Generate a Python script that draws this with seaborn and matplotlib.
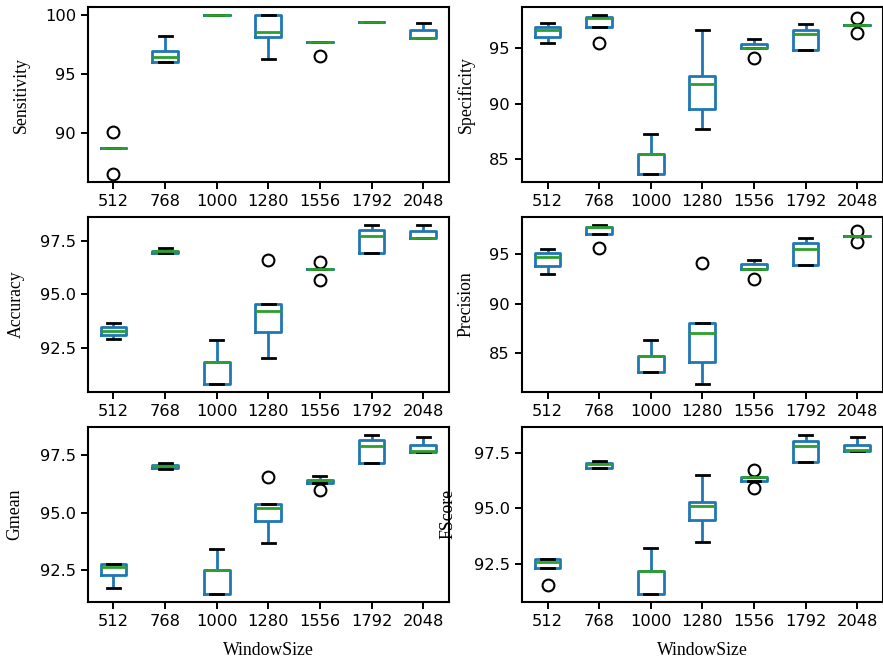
import matplotlib
matplotlib.use("Agg")
import matplotlib.pyplot as plt
from matplotlib.ticker import MultipleLocator
import seaborn as sns
import pandas as pd

window_sizes = ["512", "768", "1000", "1280", "1556", "1792", "2048"]

sensitivity = [
    [86.45, 88.67, 88.67, 88.67, 90.06],
    [96.02, 96.02, 96.42, 96.96, 98.24],
    [100.0, 100.0, 100.0, 100.0, 100.0],
    [96.25, 98.12, 98.55, 100.0, 100.0],
    [96.53, 97.70, 97.70, 97.70, 97.70],
    [99.40, 99.40, 99.40, 99.40, 99.40],
    [98.04, 98.04, 98.04, 98.72, 99.32],
]
specificity = [
    [95.46, 96.03, 96.63, 96.96, 97.26],
    [95.51, 96.96, 97.71, 97.80, 97.99],
    [83.65, 83.65, 85.43, 85.43, 87.24],
    [87.69, 89.49, 91.75, 92.53, 96.63],
    [94.16, 95.00, 95.00, 95.42, 95.82],
    [94.82, 94.82, 96.30, 96.68, 97.20],
    [96.39, 97.08, 97.08, 97.08, 97.71],
]
accuracy = [
    [92.93, 93.11, 93.30, 93.50, 93.69],
    [96.90, 96.90, 97.01, 97.03, 97.15],
    [90.84, 90.84, 91.87, 91.87, 92.88],
    [92.05, 93.24, 94.23, 94.55, 96.58],
    [95.67, 96.18, 96.18, 96.18, 96.52],
    [96.90, 96.90, 97.71, 97.97, 98.22],
    [97.62, 97.62, 97.62, 97.93, 98.22],
]
precision = [
    [93.00, 93.81, 94.71, 95.15, 95.56],
    [95.63, 97.00, 97.75, 97.80, 97.95],
    [83.10, 83.10, 84.72, 84.72, 86.33],
    [81.89, 84.14, 87.04, 88.08, 94.15],
    [92.45, 93.50, 93.50, 93.97, 94.41],
    [93.91, 93.91, 95.52, 96.09, 96.63],
    [96.19, 96.83, 96.83, 96.83, 97.37],
]
gmean = [
    [91.71, 92.31, 92.63, 92.75, 92.75],
    [96.90, 96.92, 97.02, 97.06, 97.13],
    [91.48, 91.48, 92.49, 92.49, 93.43],
    [93.70, 94.65, 95.20, 95.38, 96.55],
    [95.98, 96.27, 96.43, 96.43, 96.60],
    [97.15, 97.15, 97.90, 98.13, 98.37],
    [97.61, 97.61, 97.69, 97.93, 98.27],
]
fscore = [
    [91.55, 92.28, 92.55, 92.71, 92.71],
    [96.85, 96.85, 97.00, 97.05, 97.14],
    [91.13, 91.13, 92.17, 92.17, 93.21],
    [93.48, 94.49, 95.11, 95.30, 96.50],
    [95.92, 96.23, 96.40, 96.40, 96.73],
    [97.11, 97.11, 97.83, 98.07, 98.33],
    [97.59, 97.59, 97.65, 97.89, 98.22],
]

metric_names = ["Sensitivity", "Specificity", "Accuracy", "Precision", "Gmean", "FScore"]
metric_values = [sensitivity, specificity, accuracy, precision, gmean, fscore]
tick_steps = [5, 5, 2.5, 5, 2.5, 2.5]

plt.rcParams.update({
    "font.family": ["DejaVu Sans"],
    "xtick.labelsize": 11.7,
    "ytick.labelsize": 11.7,
    "axes.linewidth": 1.5,
    "xtick.major.width": 1.4,
    "ytick.major.width": 1.4,
    "xtick.major.size": 5,
    "ytick.major.size": 5,
})

BLUE = "#1f77b4"
GREEN = "#2ca02c"
LW = 2.0

fig, axes = plt.subplots(3, 2, figsize=(8.83, 6.6), dpi=100)
fig.subplots_adjust(left=0.0993, right=1.0, bottom=0.0883, top=0.989,
                    wspace=0.2017, hspace=0.2)

label_x = {
    "Sensitivity": -0.1844, "Accuracy": -0.198, "Gmean": -0.201,
    "Specificity": -0.1547, "Precision": -0.1547, "FScore": -0.2032,
}

for i, (name, vals, step) in enumerate(zip(metric_names, metric_values, tick_steps)):
    ax = axes[i // 2, i % 2]
    rows = []
    for ws, group in zip(window_sizes, vals):
        for v in group:
            rows.append({"WindowSize": ws, name: v})
    df = pd.DataFrame(rows)
    sns.boxplot(
        data=df, x="WindowSize", y=name, order=window_sizes, ax=ax,
        width=0.5, fill=False, color=BLUE, linewidth=LW, whis=1.5,
        boxprops=dict(color=BLUE, linewidth=LW),
        whiskerprops=dict(color=BLUE, linewidth=LW),
        capprops=dict(color="black", linewidth=LW),
        medianprops=dict(color=GREEN, linewidth=LW),
        flierprops=dict(marker="o", markersize=8.5, markeredgecolor="black",
                        markerfacecolor="none", markeredgewidth=1.5),
        capwidths=0.25,
    )
    ax.set_xlim(-0.5, 6.5)
    ax.yaxis.set_major_locator(MultipleLocator(step))
    ax.set_ylabel(name, family="Liberation Serif", fontsize=12.8, va="center")
    ax.yaxis.set_label_coords(label_x[name], 0.5)
    if i // 2 == 2:
        ax.set_xlabel("WindowSize", family="Liberation Serif", fontsize=12.8,
                      labelpad=9.5)
    else:
        ax.set_xlabel("")
    for s in ax.spines.values():
        s.set_visible(True)
        s.set_color("black")

fig.savefig("out.png", dpi=100)
